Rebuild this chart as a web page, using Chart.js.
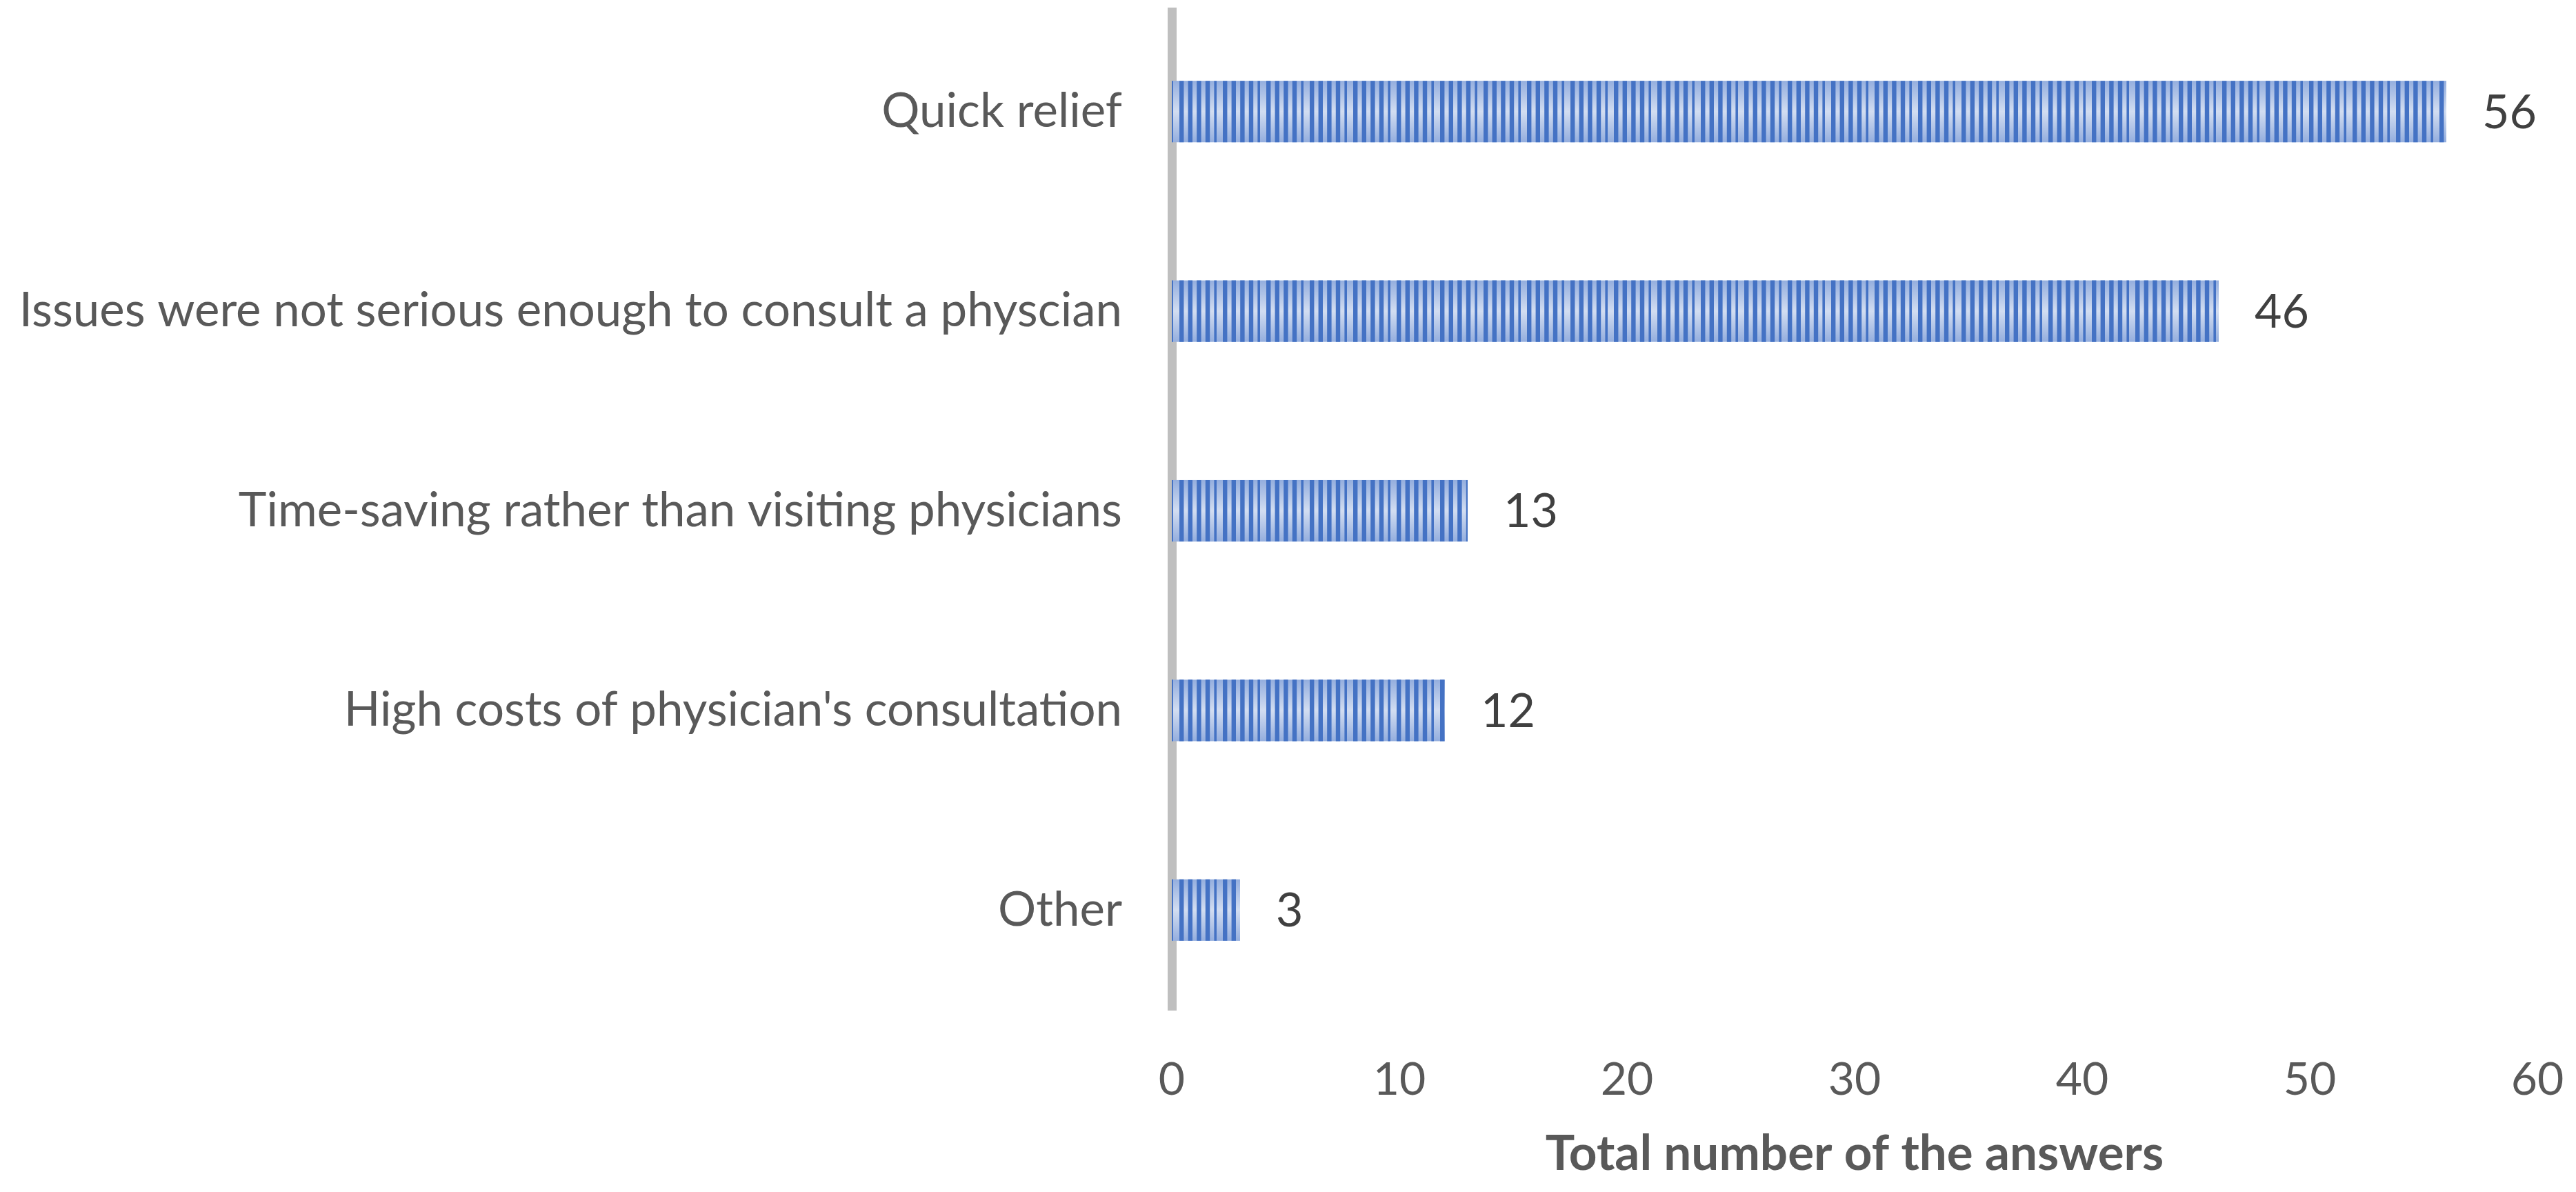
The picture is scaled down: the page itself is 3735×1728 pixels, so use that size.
<!DOCTYPE html>
<html>
<head>
<meta charset="utf-8">
<script src="https://cdn.jsdelivr.net/npm/chart.js@4/dist/chart.umd.min.js"></script>
<style>
  html, body { margin: 0; padding: 0; background: #ffffff; }
  #wrap { width: 3735px; height: 1728px; }
</style>
</head>
<body>
<div id="wrap"><canvas id="c" width="3735" height="1728"></canvas></div>
<script>
const categories = [
  "Quick relief",
  "Issues were not serious enough to consult a physcian",
  "Time-saving rather than visiting physicians",
  "High costs of physician's consultation",
  "Other"
];
const answers = [56, 46, 13, 12, 3];
const xTicks = [0, 10, 20, 30, 40, 50, 60];
const xTitle = "Total number of the answers";

const FONT = "Lato";

// stripe pattern (dark vertical stripes, transparent gaps)
function makeStripePattern(ctx) {
  const pc = document.createElement('canvas');
  pc.width = 63; pc.height = 4;
  const p = pc.getContext('2d');
  p.fillStyle = '#4472C4';
  for (let i = 0; i < 5; i++) {
    p.fillRect(9 + i * 12.6, 0, 6.4, 4);
  }
  return ctx.createPattern(pc, 'repeat');
}

const canvas = document.getElementById('c');
const ctx0 = canvas.getContext('2d');
const stripes = makeStripePattern(ctx0);

const gradientUnderlay = {
  id: 'gradientUnderlay',
  beforeDatasetsDraw(chart) {
    const ctx = chart.ctx;
    const meta = chart.getDatasetMeta(0);
    meta.data.forEach((el) => {
      const p = el.getProps(['x', 'y', 'base', 'height'], true);
      const top = p.y - p.height / 2, bot = p.y + p.height / 2;
      const g = ctx.createLinearGradient(0, top, 0, bot);
      g.addColorStop(0, '#94aede');
      g.addColorStop(0.5, '#d2ddf1');
      g.addColorStop(1, '#94aede');
      ctx.save();
      ctx.fillStyle = g;
      ctx.fillRect(Math.min(p.base, p.x), top, Math.abs(p.x - p.base), p.height);
      ctx.restore();
    });
  }
};

const valueLabels = {
  id: 'valueLabels',
  afterDatasetsDraw(chart) {
    const ctx = chart.ctx;
    const meta = chart.getDatasetMeta(0);
    const data = chart.data.datasets[0].data;
    ctx.save();
    ctx.font = `68px ${FONT}`;
    ctx.fillStyle = '#404040';
    ctx.textAlign = 'left';
    ctx.textBaseline = 'middle';
    meta.data.forEach((el, i) => {
      const p = el.getProps(['x', 'y'], true);
      ctx.fillText(String(data[i]), p.x + 52, p.y + 2);
    });
    ctx.restore();
  }
};

Chart.defaults.font.family = FONT;

new Chart(canvas, {
  type: 'bar',
  data: {
    labels: categories,
    datasets: [{
      data: answers,
      backgroundColor: stripes,
      borderWidth: 0,
      categoryPercentage: 1,
      barPercentage: 0.308
    }]
  },
  options: {
    indexAxis: 'y',
    responsive: false,
    devicePixelRatio: 1,
    animation: false,
    layout: { padding: { left: 0, right: 56, top: 17, bottom: 0 } },
    plugins: { legend: { display: false }, tooltip: { enabled: false } },
    scales: {
      y: {
        z: 1,
        grid: { color: 'rgba(0,0,0,0)', drawTicks: false },
        border: { display: true, color: '#bfbfbf', width: 13 },
        ticks: {
          color: '#595959',
          font: { size: 69, family: FONT },
          padding: 72
        },
        afterFit(scale) {
          scale.width = 1699;
          scale.paddingTop = 0;
          scale.paddingBottom = 0;
        }
      },
      x: {
        min: 0,
        max: 60,
        grid: { display: false, drawTicks: false },
        border: { display: false },
        afterBuildTicks(scale) { scale.ticks = xTicks.map(v => ({ value: v })); },
        ticks: {
          color: '#595959',
          font: { size: 66, family: FONT },
          padding: 62,
          maxRotation: 0
        },
        title: {
          display: true,
          text: xTitle,
          color: '#595959',
          font: { size: 71, weight: 'bold', family: FONT },
          padding: { top: 0, bottom: 12 }
        },
        afterFit(scale) {
          scale.height = 264;
          scale.paddingLeft = 0;
          scale.paddingRight = 0;
        }
      }
    }
  },
  plugins: [gradientUnderlay, valueLabels]
});
</script>
</body>
</html>
